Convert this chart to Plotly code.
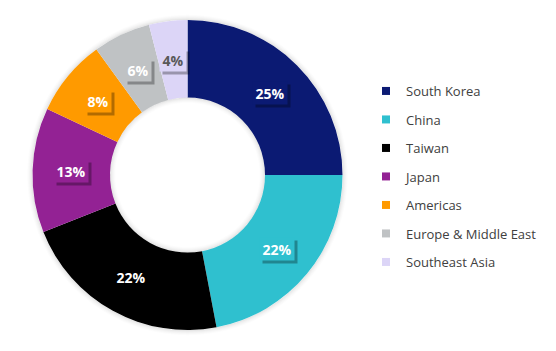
import math
import plotly.graph_objects as go

regions = ["South Korea", "China", "Taiwan", "Japan", "Americas", "Europe & Middle East", "Southeast Asia"]
shares = [25, 22, 22, 13, 8, 6, 4]
colors = ["#0b1a73", "#2fc0cf", "#000000", "#932294", "#ff9a00", "#bfc2c4", "#dcd5f7"]
label_colors = ["white", "white", "white", "white", "white", "white", "#595959"]

W, H = 556, 351
cx, cy, R = 187.5, 175, 155
hole = 0.5
rin = R * hole

fig = go.Figure()
fig.add_trace(go.Pie(
    labels=regions, values=shares, sort=False, direction="clockwise", rotation=0,
    hole=hole, marker=dict(colors=colors, line=dict(width=0)),
    textinfo="none", hoverinfo="label+percent", showlegend=False,
    domain=dict(x=[(cx - R) / W, (cx + R) / W], y=[1 - (cy + R) / H, 1 - (cy - R) / H]),
))

# legend via dummy traces (for spacing)
for i, (name, col) in enumerate(zip(regions, colors)):
    fig.add_trace(go.Scatter(
        x=[None], y=[None], mode="markers", name=name, legendgroup=str(i),
        marker=dict(symbol="square", size=8, color=col),
    ))


def ring_path(r1, r2, n=120):
    def circ(r):
        pts = []
        for k in range(n):
            a = 2 * math.pi * k / n
            pts.append(((cx + r * math.cos(a)) / W, 1 - (cy + r * math.sin(a)) / H))
        return "M " + " L ".join(f"{x:.5f},{y:.5f}" for x, y in pts) + " Z"
    return circ(r1) + " " + circ(r2)


# soft shadow outside the ring and inside the hole
for k in range(1, 7):
    a = 0.05 * (1 - (k - 1) / 6)
    fig.add_shape(type="path", path=ring_path(R, R + k), xref="paper", yref="paper",
                  fillcolor=f"rgba(0,0,0,{a * 0.6:.3f})", line=dict(width=0),
                  fillrule="evenodd", layer="below")
    fig.add_shape(type="path", path=ring_path(rin - k, rin), xref="paper", yref="paper",
                  fillcolor=f"rgba(0,0,0,{a * 0.6:.3f})", line=dict(width=0),
                  fillrule="evenodd", layer="above")

total = sum(shares)
rmid = (R + rin) / 2
cum = 0
for v, col, lc in zip(shares, colors, label_colors):
    mid = (cum + v / 2) / total * 2 * math.pi
    cum += v
    px = cx + rmid * math.sin(mid)
    py = cy - rmid * math.cos(mid)
    xp, yp = px / W, 1 - py / H
    pct = round(v / total * 100)
    w = 8 * len(str(pct)) + 14
    # drop shadow box (no text)
    fig.add_annotation(x=xp, y=yp, xref="paper", yref="paper", text="&nbsp;", showarrow=False,
                       xanchor="center", yanchor="middle", width=w, height=18,
                       font=dict(family="Open Sans", size=14, color="rgba(0,0,0,0)"),
                       bgcolor="rgba(0,0,0,0.3)", borderpad=2, xshift=3, yshift=-3)
    fig.add_annotation(x=xp, y=yp, xref="paper", yref="paper", text=f"<b>{pct}%</b>", showarrow=False,
                       xanchor="center", yanchor="middle", width=w, height=18,
                       font=dict(family="Open Sans", size=14, color=lc),
                       bgcolor=col, borderpad=2)

fig.update_layout(
    width=W, height=H, margin=dict(l=0, r=0, t=0, b=0),
    paper_bgcolor="white", plot_bgcolor="white",
    xaxis=dict(visible=False), yaxis=dict(visible=False),
    legend=dict(x=366 / W, y=1 - 76 / H, xanchor="left", yanchor="top",
                font=dict(family="Open Sans", size=13, color="#404040"),
                traceorder="grouped", tracegroupgap=8.6, itemwidth=30,
                bgcolor="rgba(0,0,0,0)"),
    font=dict(family="Open Sans"),
)

fig.write_html("out.html")
